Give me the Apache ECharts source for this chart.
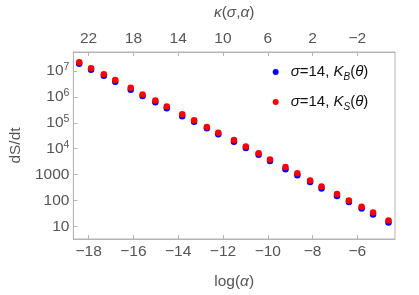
<!DOCTYPE html>
<html><head><meta charset="utf-8">
<script src="https://cdn.jsdelivr.net/npm/echarts@6/dist/echarts.min.js"></script>
<style>html,body{margin:0;padding:0;background:#fff}#c{width:419px;height:295px}</style>
</head><body><div id="c"></div>
<script>
// log(alpha) of each sample
const logAlpha = [-18.42, -17.89, -17.32, -16.81, -16.12, -15.59, -15.02, -14.51,
  -13.82, -13.29, -12.72, -12.21, -11.51, -10.98, -10.41, -9.90,
  -9.21, -8.68, -8.11, -7.60, -6.91, -6.38, -5.81, -5.30, -4.61];
// dS/dt for K_B(theta)
const dsdtB = [1.9e7, 1.11e7, 6.5e6, 3.8e6, 1.9e6, 1.08e6, 6.2e5, 3.6e5,
  1.8e5, 1.09e5, 6.2e4, 3.6e4, 1.86e4, 1.06e4, 5.8e3, 3.33e3,
  1.62e3, 950, 513, 292, 150, 88, 49, 28.5, 14.2];
// dS/dt for K_S(theta)
const dsdtS = [2.18e7, 1.27e7, 7.4e6, 4.5e6, 2.23e6, 1.24e6, 7.2e5, 4.26e5,
  2.12e5, 1.24e5, 6.9e4, 4.15e4, 2.15e4, 1.2e4, 6.7e3, 3.82e3,
  1.96e3, 1.12e3, 587, 343, 176, 100, 57, 34, 17];
const xTicks = [-18, -16, -14, -12, -10, -8, -6];
const kappaTicks = [22, 18, 14, 10, 6, 2, -2];
const yTicks = [10, 100, 1000, 1e4, 1e5, 1e6, 1e7];
const seriesNames = ['σ=14, K_B(θ)', 'σ=14, K_S(θ)'];

const xMin = -18.68, xMax = -4.32;
const kappa = x => -14 - 2 * x;

const gray = '#b4b4b4';
const txt = '#555555';
const ff = '"Liberation Sans", Arial, sans-serif';
const minus = v => String(v).replace('-', '\u2212');

const axisCommon = {
  axisLine: {show: true, onZero: false, lineStyle: {color: gray, width: 1}},
  axisTick: {show: true, inside: true, length: 4, lineStyle: {color: gray}},
  splitLine: {show: false},
  nameTextStyle: {color: txt, fontSize: 15.5, fontFamily: ff},
};

const chart = echarts.init(document.getElementById('c'), null, {renderer: 'canvas'});
chart.setOption({
  animation: false,
  backgroundColor: '#fff',
  grid: {left: 62.5, right: 24, top: 43, bottom: 45, show: true, borderColor: gray, borderWidth: 1},
  legend: {
    orient: 'vertical', left: 267.7, top: 57, itemWidth: 20, itemHeight: 6, itemGap: 10,
    icon: 'circle',
    data: seriesNames,
    formatter: n => n.indexOf('K_B') >= 0
      ? '{i|σ}=14, {i|K}{sub|B}({i|θ})'
      : '{i|σ}=14, {i|K}{sub|S}({i|θ})',
    textStyle: {
      color: '#111', fontSize: 15, fontFamily: ff, lineHeight: 20,
      rich: {
        i: {fontStyle: 'italic', fontSize: 15, fontFamily: ff, color: '#111'},
        sub: {fontStyle: 'italic', fontSize: 10, fontFamily: ff, color: '#111', verticalAlign: 'bottom', padding: [6, 0, 0, 0]}
      }
    }
  },
  xAxis: [
    Object.assign({}, axisCommon, {
      type: 'value', position: 'bottom', min: xMin, max: xMax,
      name: 'log({i|α})', nameLocation: 'middle', nameGap: 35,
      nameTextStyle: {color: txt, fontSize: 15.5, fontFamily: ff,
        rich: {i: {fontStyle: 'italic', fontSize: 15.5, fontFamily: ff, color: txt}}},
      axisLabel: {customValues: xTicks, color: txt, fontSize: 15.5, fontFamily: ff, margin: 5, formatter: minus},
      axisTick: Object.assign({}, axisCommon.axisTick, {customValues: xTicks}),
    }),
    Object.assign({}, axisCommon, {
      type: 'value', position: 'top', inverse: true, min: kappa(xMax), max: kappa(xMin),
      name: '{i|κ}({i|σ},{i|α})', nameLocation: 'middle', nameGap: 31,
      nameTextStyle: {color: txt, fontSize: 15.5, fontFamily: ff,
        rich: {i: {fontStyle: 'italic', fontSize: 15.5, fontFamily: ff, color: txt}}},
      axisLabel: {customValues: kappaTicks, color: txt, fontSize: 15.5, fontFamily: ff, margin: 5, formatter: minus},
      axisTick: Object.assign({}, axisCommon.axisTick, {customValues: kappaTicks}),
    })
  ],
  yAxis: Object.assign({}, axisCommon, {
    type: 'log', logBase: 10, min: 3.25, max: 5.4e7,
    name: 'dS/dt', nameLocation: 'middle', nameGap: 49, nameRotate: 90,
    axisLabel: {
      customValues: yTicks, color: txt, fontSize: 15.5, fontFamily: ff, margin: 4,
      formatter: v => {
        const e = Math.round(Math.log10(v));
        if (e <= 3) return String(Math.round(v));
        return '{b|10}{s|' + e + '}';
      },
      rich: {
        b: {fontSize: 15.5, fontFamily: ff, color: txt},
        s: {fontSize: 10.5, fontFamily: ff, color: txt, verticalAlign: 'top', padding: [0, 0, 8, 0]}
      }
    },
    axisTick: Object.assign({}, axisCommon.axisTick, {customValues: yTicks}),
  }),
  series: [
    {name: seriesNames[0], type: 'scatter', xAxisIndex: 0, yAxisIndex: 0, symbolSize: 6.5,
     itemStyle: {color: '#0000ff', opacity: 1}, data: logAlpha.map((x, i) => [x, dsdtB[i]])},
    {name: seriesNames[1], type: 'scatter', xAxisIndex: 0, yAxisIndex: 0, symbolSize: 6.5,
     itemStyle: {color: '#ff0000', opacity: 1}, data: logAlpha.map((x, i) => [x, dsdtS[i]])}
  ]
});
</script>
</body></html>
